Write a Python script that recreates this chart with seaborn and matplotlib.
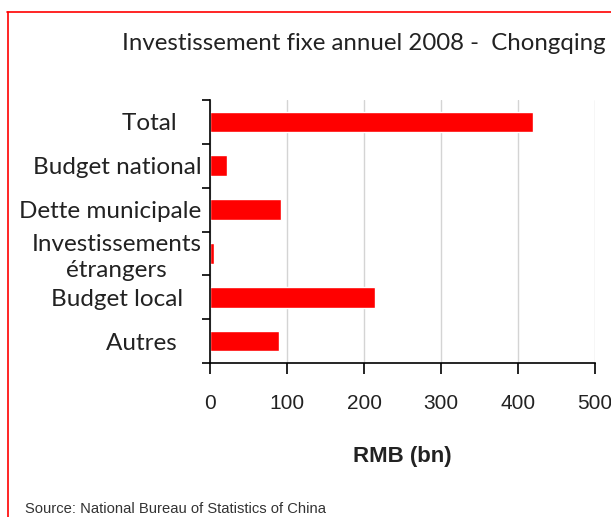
import matplotlib
matplotlib.use("Agg")
import matplotlib.pyplot as plt
from matplotlib.lines import Line2D
import seaborn as sns

# Data
categories = ["Total    ", "Budget national", "Dette municipale",
              "Investissements\nétrangers", "Budget local   ", "Autres    "]
values = [420, 22, 92, 5, 214, 90]
x_ticks = [0, 100, 200, 300, 400, 500]

title = "Investissement fixe annuel 2008 -  Chongqing"
source = "Source: National Bureau of Statistics of China"

sns.set_theme(style="white")
plt.rcParams["font.family"] = ["Lato", "DejaVu Sans"]

fig = plt.figure(figsize=(6.11, 5.17), dpi=100)
ax = fig.add_axes([210 / 611, 1 - 363 / 517, 385 / 611, 263 / 517])

sns.barplot(x=values, y=categories, color="#ff0000", saturation=1,
            width=0.47, ax=ax, orient="h")

ax.set_xlim(0, 500)
ax.set_ylim(5.5, -0.5)
ax.set_xticks(x_ticks)
ax.set_xticklabels([str(t) for t in x_ticks], family="Liberation Sans",
                   fontsize=15, color="#222222")
ax.xaxis.grid(True, color="#d4d4d4", linewidth=1)
ax.set_axisbelow(True)

# y ticks sit at the category boundaries
ax.set_yticks(range(len(categories)))
ax.set_yticklabels(categories, fontsize=17.5, color="#222222",
                   multialignment="center", linespacing=1.25)
ax.set_yticks([i - 0.5 for i in range(len(categories) + 1)], minor=True)
ax.tick_params(axis="y", which="major", length=0, pad=6)
ax.tick_params(axis="y", which="minor", left=True, length=6, width=1.2,
               color="black")
ax.tick_params(axis="x", bottom=True, length=8, width=1.2, color="black",
               pad=14)

for side in ["top", "right"]:
    ax.spines[side].set_visible(False)
for side in ["left", "bottom"]:
    ax.spines[side].set_color("black")
    ax.spines[side].set_linewidth(1.2)

ax.set_ylabel("")
ax.set_xlabel("RMB (bn)", family="Liberation Sans", fontweight="bold",
              fontsize=16, labelpad=24, color="#222222")

fig.text(122 / 611, 1 - 43 / 517, title, fontsize=17.3, va="center",
         ha="left", color="#222222")
fig.text(25 / 611, 1 - 509 / 517, source, family="Liberation Sans",
         fontsize=10.6, va="center", ha="left", color="#333333")

# red frame lines
fig.add_artist(Line2D([7 / 611, 1], [1 - 12 / 517, 1 - 12 / 517],
                      color="red", linewidth=1.2, transform=fig.transFigure))
fig.add_artist(Line2D([8 / 611, 8 / 611], [0, 1 - 12 / 517],
                      color="red", linewidth=1.2, transform=fig.transFigure))

fig.savefig("out.png", dpi=100)
